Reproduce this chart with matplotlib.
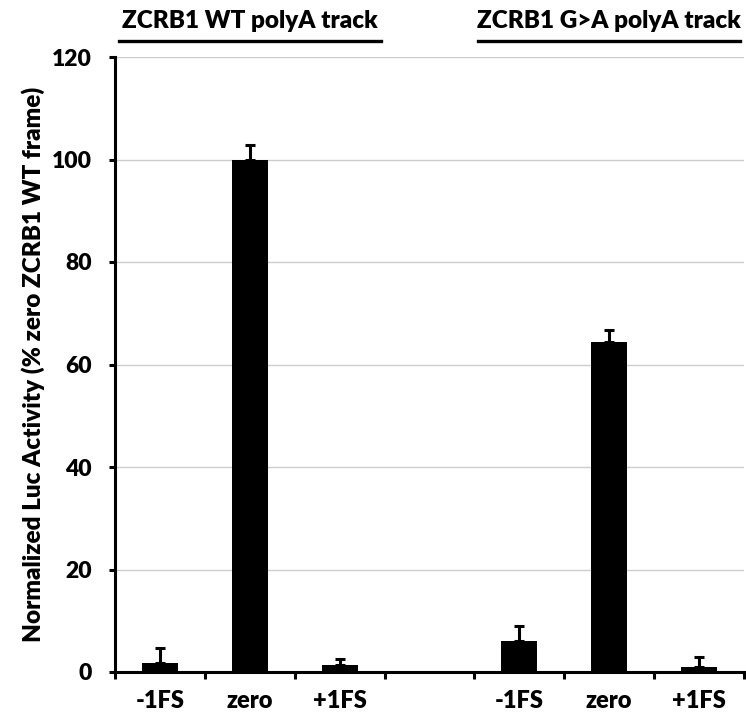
import numpy as np
import matplotlib
matplotlib.use("Agg")
import matplotlib.pyplot as plt
import matplotlib.transforms as mtransforms

plt.rcParams.update({
    "font.family": ["Lato", "DejaVu Sans"],
    "font.weight": "bold",
})

# categories left to right (empty slot separates the two constructs)
categories = ["-1FS", "zero", "+1FS", "", "-1FS", "zero", "+1FS"]
activity = [1.7, 100.0, 1.3, np.nan, 6.1, 64.3, 1.0]
err_up = [2.9, 2.8, 1.2, np.nan, 2.9, 2.4, 2.0]
group_titles = ["ZCRB1 WT polyA track", "ZCRB1 G>A polyA track"]
group_centers = [1, 5]
y_ticks = [0, 20, 40, 60, 80, 100, 120]

fig = plt.figure(figsize=(7.46, 7.15), dpi=100)
ax = fig.add_axes([115 / 746, 1 - 672 / 715, (744 - 115) / 746, (672 - 57) / 715])

x = np.arange(len(categories))
vals = np.array(activity, dtype=float)
errs = np.array(err_up, dtype=float)
mask = ~np.isnan(vals)

ax.bar(x[mask], vals[mask], width=0.4, color="black", zorder=3)
ax.errorbar(x[mask], vals[mask], yerr=[np.zeros(mask.sum()), errs[mask]],
            fmt="none", ecolor="black", elinewidth=2.2, capsize=3.5, capthick=2.2, zorder=4)

ax.set_xlim(-0.5, len(categories) - 0.5)
ax.set_ylim(0, 120)
ax.set_yticks(y_ticks)
ax.set_yticklabels([str(t) for t in y_ticks], fontsize=16.5, fontweight="heavy")
ax.yaxis.grid(True, color="#cccccc", linewidth=1.0, zorder=0)
ax.set_axisbelow(True)

ax.set_xticks(x)
ax.set_xticklabels(categories, fontsize=17, fontweight="heavy")
ax.set_xticks(np.arange(-0.5, len(categories)), minor=True)
ax.tick_params(axis="x", which="major", length=0, pad=13)
ax.tick_params(axis="x", which="minor", length=5, width=2.2, direction="out")
ax.tick_params(axis="y", length=4.5, width=2.2, direction="out", pad=12)

for side in ["top", "right"]:
    ax.spines[side].set_visible(False)
for side in ["left", "bottom"]:
    ax.spines[side].set_linewidth(2.2)
ax.spines["bottom"].set_zorder(5)

ax.set_ylabel("Normalized Luc Activity (% zero ZCRB1 WT frame)", fontsize=17.5,
              fontweight="heavy", labelpad=5)

# group headers with underline
trans = mtransforms.blended_transform_factory(ax.transData, fig.transFigure)
half = 1.46
for title, c in zip(group_titles, group_centers):
    fig.text(c, 1 - 21 / 715, title, transform=trans, ha="center", va="center",
             fontsize=17.5, fontweight="heavy")
    fig.add_artist(plt.Line2D([c - half, c + half], [1 - 40.5 / 715] * 2,
                              transform=trans, color="black", linewidth=2.4))

fig.savefig("out.png", dpi=100)
